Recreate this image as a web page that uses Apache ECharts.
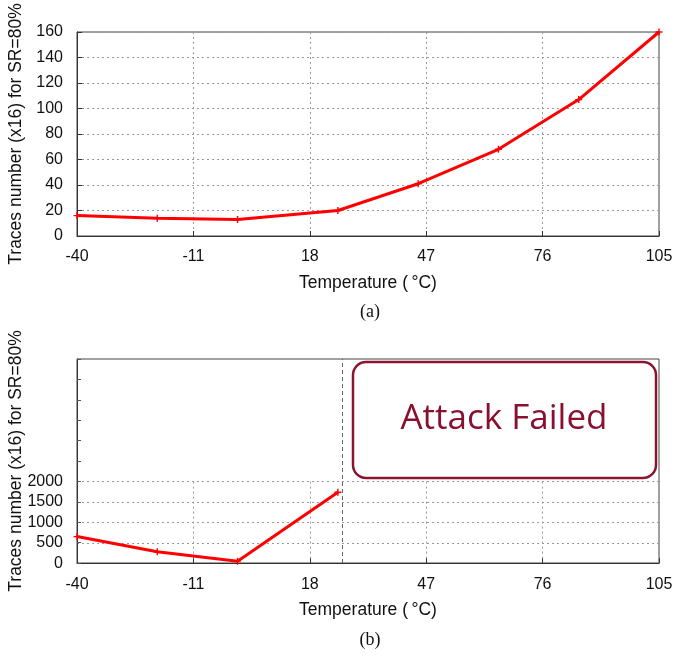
<!DOCTYPE html>
<html><head><meta charset="utf-8">
<script src="https://cdn.jsdelivr.net/npm/echarts@6/dist/echarts.min.js"></script>
<style>html,body{margin:0;padding:0;background:#fff}#c{width:674px;height:656px}</style>
</head><body><div id="c"></div>
<script>
// Data
const temperatures = [-40, -20, 0, 25, 45, 65, 85, 105];
const tracesA = [16, 14, 13, 20, 41, 68, 107, 160];
const temperaturesB = [-40, -20, 0, 25];
const tracesB = [652, 280, 50, 1740];
const xTicks = [-40, -11, 18, 47, 76, 105];
const failThreshold = 26;
const yNameText = 'Traces number (x16) for SR=80%';
const xNameText = 'Temperature (\u2009\u00B0C)';
const failText = 'Attack Failed';

const chart = echarts.init(document.getElementById('c'), null, {renderer: 'canvas'});
const FONT = 'Liberation Sans';
const gridLine = {show: true, lineStyle: {color: '#9a9a9a', type: [2, 3], width: 1}};
const plus = 'path://M4,0H6V4H10V6H6V10H4V6H0V4H4Z';
const axisLbl = {fontFamily: FONT, fontSize: 16, color: '#111'};
const nameStyle = {fontFamily: FONT, fontSize: 17.5, color: '#111'};
const plain = v => String(v);

function xAx(gi, show) {
  return {
    type: 'value', gridIndex: gi, min: -40, max: 105, interval: 29,
    axisLine: {show: show, onZero: false, lineStyle: {color: '#333', width: 1}},
    axisTick: {show: show, inside: true, length: 5, lineStyle: {color: '#333'}},
    axisLabel: Object.assign({show: show, margin: 13, formatter: plain}, axisLbl),
    splitLine: show ? gridLine : {show: false},
    name: show ? xNameText : '', nameLocation: 'middle', nameGap: 38,
    nameTextStyle: nameStyle
  };
}

const gridBase = {left: 77, right: 15, containLabel: false, outerBoundsMode: 'none'};
const option = {
  animation: false,
  grid: [
    Object.assign({top: 32, height: 204, show: true, borderColor: '#444', borderWidth: 1}, gridBase),
    Object.assign({top: 359, height: 204, show: true, borderColor: '#444', borderWidth: 1}, gridBase),
    Object.assign({top: 481.6, height: 81.6, show: false}, gridBase)
  ],
  xAxis: [xAx(0, true), xAx(1, false), xAx(2, true)],
  yAxis: [
    {type: 'value', gridIndex: 0, min: 0, max: 160, interval: 20,
     axisLine: {show: true, onZero: false, lineStyle: {color: '#333'}},
     axisTick: {show: true, inside: true, length: 5, lineStyle: {color: '#333'}},
     axisLabel: Object.assign({margin: 14, formatter: plain}, axisLbl), splitLine: gridLine,
     name: yNameText, nameLocation: 'middle', nameGap: 52,
     nameTextStyle: nameStyle},
    {type: 'value', gridIndex: 1, min: 0, max: 5000, interval: 500,
     axisLine: {show: true, onZero: false, lineStyle: {color: '#333'}},
     axisTick: {show: true, inside: true, length: 4, lineStyle: {color: '#555'}},
     axisLabel: {show: false}, splitLine: {show: false},
     name: yNameText, nameLocation: 'middle', nameGap: 52,
     nameTextStyle: nameStyle},
    {type: 'value', gridIndex: 2, min: 0, max: 2000, interval: 500,
     axisLine: {show: false, onZero: false}, axisTick: {show: false},
     axisLabel: Object.assign({margin: 14, formatter: plain}, axisLbl), splitLine: gridLine}
  ],
  series: [
    {type: 'line', xAxisIndex: 0, yAxisIndex: 0,
     data: temperatures.map((t, i) => [t, tracesA[i]]),
     lineStyle: {color: '#ff0000', width: 3}, itemStyle: {color: '#ff0000'},
     symbol: plus, symbolSize: 7, showSymbol: true, clip: false},
    {type: 'line', xAxisIndex: 1, yAxisIndex: 1, data: [],
     markLine: {silent: true, symbol: 'none', label: {show: false},
       lineStyle: {color: '#666', type: [4, 3], width: 1},
       data: [{xAxis: failThreshold}]}},
    {type: 'line', xAxisIndex: 2, yAxisIndex: 2,
     data: temperaturesB.map((t, i) => [t, tracesB[i]]),
     lineStyle: {color: '#ff0000', width: 3}, itemStyle: {color: '#ff0000'},
     symbol: plus, symbolSize: 7, showSymbol: true, clip: false}
  ],
  graphic: [
    {type: 'rect', shape: {x: 353, y: 362, width: 303, height: 116, r: 13},
     style: {fill: 'rgba(0,0,0,0)', stroke: '#8a1530', lineWidth: 2.5}, z: 10},
    {type: 'text', x: 504, y: 419,
     style: {text: failText, font: '35px "Open Sans"', fill: '#8a1030', align: 'center', verticalAlign: 'middle'}, z: 10},
    {type: 'text', x: 370, y: 312,
     style: {text: '(a)', font: '18px "Liberation Serif"', fill: '#111', align: 'center', verticalAlign: 'middle'}},
    {type: 'text', x: 370, y: 640,
     style: {text: '(b)', font: '18px "Liberation Serif"', fill: '#111', align: 'center', verticalAlign: 'middle'}}
  ]
};
chart.setOption(option);
</script></body></html>
